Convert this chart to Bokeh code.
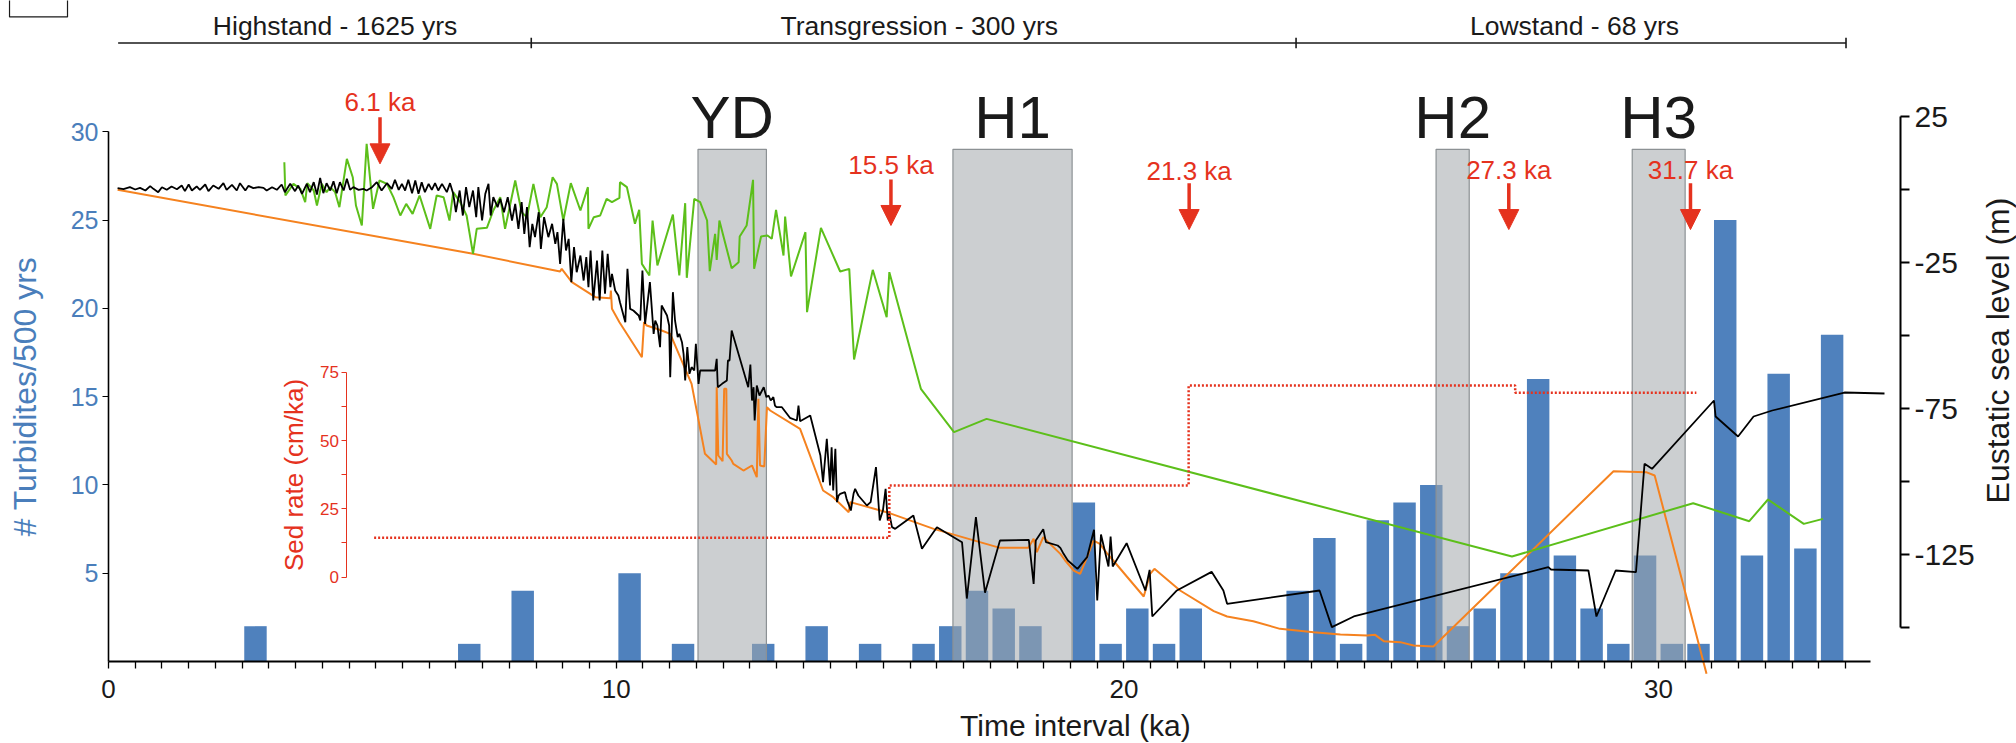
import math
from bokeh.plotting import figure
from bokeh.models import (Range1d, LinearAxis, FixedTicker, ColumnDataSource,
                          Arrow, NormalHead)
from bokeh.core.properties import value
from bokeh.embed import file_html
from bokeh.resources import INLINE

# ---------------- data ----------------
# turbidite counts per 500-yr bin (bin start, ka)
bin_start_ka = [2.5, 6.5, 7.5, 9.5, 10.5, 12.0, 13.0, 14.0, 15.0, 15.5,
                16.0, 16.5, 17.0, 18.0, 18.5, 19.0, 19.5, 20.0, 22.0, 22.5,
                23.0, 23.5, 24.0, 24.5, 25.0, 25.5, 26.0, 26.5, 27.0, 27.5,
                28.0, 28.5, 29.0, 29.5, 30.0, 30.5, 31.0, 31.5, 32.0]
turbidites = [2, 1, 4, 5, 1, 1, 2, 1, 1, 2,
              4, 3, 2, 9, 1, 3, 1, 3, 4, 7,
              1, 8, 9, 10, 2, 3, 5, 16, 6, 3,
              1, 6, 1, 1, 25, 6, 16.3, 6.4, 18.5]

# sea-level curves (ka, m)
black_ka = [0.17, 0.28, 0.40, 0.50, 0.59, 0.69, 0.78, 0.84, 0.93, 1.00,
            1.09, 1.18, 1.28, 1.37, 1.43, 1.50, 1.56, 1.65, 1.71, 1.81,
            1.87, 1.96, 2.06, 2.15, 2.21, 2.31, 2.40, 2.46, 2.56, 2.62,
            2.71, 2.81, 2.90, 2.96, 3.06, 3.15, 3.24, 3.30, 3.40, 3.49,
            3.55, 3.62, 3.71, 3.77, 3.84, 3.90, 3.96, 4.02, 4.08, 4.15,
            4.21, 4.27, 4.33, 4.40, 4.46, 4.52, 4.58, 4.68, 4.77, 4.83,
            4.93, 5.02, 5.11, 5.21, 5.30, 5.36, 5.43, 5.49, 5.55, 5.61,
            5.68, 5.74, 5.80, 5.86, 5.92, 5.99, 6.05, 6.11, 6.17, 6.24,
            6.33, 6.39, 6.45, 6.50, 6.57, 6.63, 6.69, 6.75, 6.82, 6.88,
            6.92, 6.99, 7.05, 7.11, 7.15, 7.20, 7.28, 7.33, 7.40, 7.47,
            7.55, 7.61, 7.67, 7.73, 7.78, 7.83, 7.88, 7.93, 7.98, 8.05,
            8.09, 8.15, 8.23, 8.30, 8.36, 8.40, 8.45, 8.51, 8.56, 8.61,
            8.66, 8.71, 8.76, 8.83, 8.89, 8.94, 8.98, 9.02, 9.07, 9.14,
            9.19, 9.24, 9.29, 9.34, 9.39, 9.42, 9.48, 9.54,
            9.57, 9.67, 9.71, 9.76, 9.82, 9.92, 9.95, 9.99, 10.04, 10.13,
            10.20, 10.23, 10.27, 10.32, 10.35, 10.45, 10.49, 10.51, 10.56, 10.60,
            10.65, 10.68, 10.73, 10.76, 10.79, 10.83, 10.87, 10.91, 10.96, 10.99,
            11.04, 11.07, 11.35, 11.38, 11.40, 11.48, 11.57, 11.59, 11.62, 11.66,
            11.97, 12.01, 12.04, 12.07, 12.09, 12.13, 12.18, 12.26, 12.31, 12.35,
            12.39, 12.44, 12.47, 12.50, 12.60, 12.75, 12.88, 12.91, 12.94, 13.13,
            13.32, 13.37, 13.44, 13.50, 13.53, 13.56, 13.60, 13.63, 13.66, 13.69,
            13.78, 13.81, 13.89, 13.94, 13.97, 14.03, 14.19, 14.26, 14.36, 14.43,
            14.49, 14.54, 14.58, 14.61, 14.66, 14.72, 15.06, 15.22, 15.50, 15.97,
            16.06, 16.23, 16.40, 16.68, 17.22, 17.31, 17.35, 17.49, 17.54, 17.76,
            17.81, 17.87, 17.95, 18.13, 18.31, 18.44, 18.50, 18.57, 18.71, 18.75,
            18.79, 19.05, 19.40, 19.48, 19.53, 19.99, 20.64, 20.86, 20.93, 22.66,
            22.89, 23.30, 26.94, 26.99, 27.69, 27.84, 28.20, 28.58, 28.74, 28.88,
            30.04, 30.07, 30.49, 30.78, 31.13, 32.48, 33.23]
black_m = [0.59, 0.24, 0.93, 0.13, 0.70, -0.21, 1.27, 0.36, -0.78, 0.93,
           0.02, 1.16, 0.24, 1.50, -0.44, 1.84, -0.21, 1.16, 0.02, 1.84,
           -0.44, 1.50, 0.36, 2.30, 0.02, 1.73, -0.21, 2.30, -0.21, 1.38,
           0.59, 0.93, 0.70, -0.21, 0.93, 0.02, 1.84, -0.78, 2.07, -0.44,
           1.50, -1.36, 2.07, -0.78, 2.64, -1.58, 4.13, -1.13, 2.30, -0.21,
           2.98, -1.13, 2.64, -0.21, 3.78, 0.02, 0.93, 0.02, 0.36, -0.21,
           0.93, 2.64, -0.21, 2.30, 0.36, 3.44, 0.02, 2.07, -0.21, 3.44,
           -1.13, 3.21, -1.36, 2.64, -0.78, 2.07, 0.02, 2.30, -0.21, 2.07,
           -0.78, 2.30, -1.36, -7.64, -0.21, -8.78, 0.93, -5.92, -0.21, -9.35,
           0.93, -10.49, -1.36, 2.07, -8.78, -2.50, -5.92, -3.07, -7.64, -2.50,
           -10.49, -4.78, -13.35, -4.21, -15.06, -5.92, -19.63, -11.63, -16.20, -7.64,
           -20.20, -9.35, -16.20, -11.63, -18.48, -14.49, -25.34, -9.92, -20.77, -16.77,
           -31.62, -19.63, -28.20, -22.48, -31.05, -23.05, -33.33, -20.77, -37.90, -24.20,
           -37.90, -20.77, -35.60, -21.91, -33.33, -28.76, -34.47, -36.19,
           -38.47, -45.32, -27.05, -40.75, -41.32, -43.04, -44.75, -27.62, -45.89, -31.62,
           -49.32, -44.75, -46.46, -53.88, -39.61, -43.04, -46.46, -64.16, -35.04, -44.75,
           -50.46, -49.32, -52.17, -56.17, -65.30, -53.88, -63.02, -60.74, -61.88, -52.74,
           -66.45, -61.88, -61.88, -57.88, -67.59, -66.45, -65.30, -58.45, -58.45, -48.18,
           -67.59, -59.82, -72.16, -67.59, -79.01, -67.02, -70.44, -67.59, -71.01, -70.44,
           -72.16, -71.01, -73.87, -74.44, -74.44, -78.09, -79.01, -73.87, -79.24, -77.29,
           -91.00, -100.13, -85.29, -101.27, -88.14, -102.99, -88.71, -106.98, -104.70, -104.13,
           -103.56, -105.84, -109.84, -104.13, -102.42, -104.70, -108.13, -106.98, -94.99, -113.27,
           -109.84, -102.42, -113.27, -110.98, -115.55, -116.12, -111.55, -122.97, -115.55, -120.69,
           -140.0, -112.1, -138.0, -120.12, -119.89, -134.96, -120.12, -116.24, -120.69, -121.83,
           -122.63, -124.69, -126.97, -129.83, -125.83, -116.46, -140.67, -118.06, -129.02, -118.74,
           -129.02, -121.03, -137.24, -130.16, -146.15, -137.24, -130.85, -137.24, -141.81, -137.24,
           -149.80, -146.15, -129.25, -130.05, -130.39, -146.15, -130.40, -130.97, -93.86, -95.57,
           -72.16, -77.64, -84.49, -77.64, -75.58, -69.42, -69.76]

orange_ka = [0.17, 6.82, 8.45, 8.48, 8.67, 9.11, 9.39, 9.40, 9.42, 9.56,
             9.98, 10.02, 10.07, 10.35, 10.51, 10.91, 11.16, 11.37, 11.38, 11.41,
             11.49, 11.52, 11.56, 11.57, 11.66, 11.69, 11.88, 12.04, 12.13, 12.16,
             12.19, 12.27, 12.32, 12.38, 12.94, 13.37, 13.56, 13.85, 13.88, 14.56,
             15.44, 16.68, 17.21, 17.31, 17.37, 17.49, 17.81, 17.90, 18.06, 18.18,
             18.31, 18.43, 18.55, 18.68, 18.80, 19.37, 19.49, 19.57, 19.68, 20.05,
             20.68, 20.93, 21.42, 21.92, 22.55, 23.05, 23.55, 23.70, 23.86, 24.17,
             24.42, 24.79, 28.16, 28.77, 28.93, 29.90]
orange_m = [0.02, -21.91, -27.96, -27.05, -31.62, -36.76, -37.10, -34.47, -40.75, -45.32,
            -57.31, -45.32, -46.46, -48.18, -49.32, -66.45, -90.43, -94.08, -67.59, -91.00,
            -92.94, -68.16, -68.16, -90.43, -92.71, -93.85, -96.14, -94.42, -98.42, -71.58,
            -94.42, -94.77, -74.44, -75.58, -81.86, -102.99, -105.27, -110.41, -106.98, -110.41,
            -116.12, -122.63, -122.63, -119.55, -124.11, -118.98, -124.69, -126.97, -130.40, -131.53,
            -125.83, -120.12, -121.26, -124.45, -126.97, -139.30, -131.53, -129.82, -131.53, -137.24,
            -144.32, -146.15, -147.75, -150.38, -151.52, -152.32, -152.66, -152.43, -154.60, -154.94,
            -156.09, -156.43, -96.37, -96.71, -97.85, -165.80]

green_ka = [3.29, 3.31, 3.46, 3.59, 3.68, 3.72, 3.84, 3.90, 3.99, 4.08,
            4.15, 4.24, 4.32, 4.46, 4.57, 4.63, 4.74, 4.83, 4.95, 5.07,
            5.21, 5.33, 5.46, 5.57, 5.69, 5.82, 6.02, 6.14, 6.27, 6.38,
            6.45, 6.58, 6.70, 6.82, 6.89, 7.08, 7.20, 7.33, 7.42, 7.61,
            7.73, 7.83, 7.95, 8.08, 8.20, 8.31, 8.39, 8.51, 8.65, 8.83,
            8.97, 8.98, 9.08, 9.20, 9.32, 9.42, 9.56, 9.57, 9.70, 9.85,
            9.93, 9.98, 10.12, 10.18, 10.27, 10.56, 10.68, 10.79, 10.82, 10.96,
            11.07, 11.20, 11.25, 11.35, 11.38, 11.43, 11.66, 11.79, 11.81, 11.94,
            12.06, 12.08, 12.21, 12.33, 12.41, 12.49, 12.63, 12.66, 12.77, 13.04,
            13.07, 13.33, 13.69, 13.86, 13.95, 14.30, 14.56, 14.61, 15.20, 15.82,
            16.43, 26.26, 29.65, 30.70, 31.05, 31.72, 32.08]
green_m = [9.49, -1.93, 2.07, 0.36, -4.21, 2.30, -0.21, -5.35, 2.07, -0.78,
           0.93, -0.78, -5.92, 10.63, 4.35, -5.35, -12.21, 15.77, -6.49, 3.21,
           2.07, -2.50, -8.78, -4.78, -8.21, -1.93, -13.35, -1.93, -2.50, -10.49,
           -0.78, -4.21, -8.78, -21.91, -13.35, -13.00, -7.07, -2.50, -13.35, 3.21,
           -7.64, -9.35, 2.07, -9.35, -5.92, 4.35, 2.07, -10.49, 2.30, -7.07,
           0.93, -13.35, -9.35, -8.78, -3.07, -4.21, -2.73, 2.64, 0.93, -11.63,
           -6.84, -25.34, -29.33, -10.49, -25.91, -8.44, -29.33, -4.55, -30.13, -3.07,
           -4.21, -10.49, -27.85, -15.06, -23.97, -10.49, -26.82, -24.77, -15.97, -12.20,
           3.44, -27.05, -15.97, -15.63, -16.77, -6.84, -22.48, -9.12, -29.68, -14.49,
           -41.89, -13.00, -27.96, -27.05, -58.11, -27.39, -43.61, -28.19, -68.16, -83.00,
           -78.44, -125.60, -107.33, -113.50, -106.07, -114.41, -112.70]

# sedimentation rate (ka, cm/ka), stepped
sed_ka = [4.97, 14.61, 14.61, 20.21, 20.21, 26.32, 26.32, 29.71]
sed_rate = [14.4, 14.4, 33.6, 33.6, 70.2, 70.2, 67.6, 67.6]

# climate events (shaded)
event_names = ["YD", "H1", "H2", "H3"]
event_start = [11.03, 15.80, 24.84, 28.51]
event_end = [12.31, 18.03, 25.46, 29.50]

# dated horizons
age_labels = ["6.1 ka", "15.5 ka", "21.3 ka", "27.3 ka", "31.7 ka"]
age_x = [5.08, 14.64, 20.22, 26.20, 29.60]

# sea-level phases
phase_names = ["Highstand - 1625 yrs", "Transgression - 300 yrs", "Lowstand - 68 yrs"]
phase_start = [0.18, 7.91, 22.22]
phase_end = [7.91, 22.22, 32.51]
phase_label_x = [4.24, 15.17, 27.43]

x_tick_pos = [0, 9.5, 19, 29]
x_tick_text = ["0", "10", "20", "30"]
sea_tick_pos = [-125, -75, -25, 25]
sea_tick_text = ["-125", "-75", "-25", "25"]

# ---------------- layout / style ----------------
FONT = "Liberation Sans"
RED = "#e5321e"
BLUE = "#4f81bd"
BLUE_TXT = "#4a7ebb"
GREEN = "#5cbf1a"
ORANGE = "#f5821f"
DARK = "#1a1a1a"
BIN = 0.5
EVENT_TOP = 29
EVENT_LABEL_Y = 30.78
HEADER_Y = 35.02
HEADER_TEXT_Y = 35.96
age_label_y = [31.67, 28.13, 27.80, 27.86, 27.86]
arrow_y0 = [30.82, 27.29, 27.08, 27.08, 27.08]
arrow_y1 = [28.18, 24.69, 24.46, 24.46, 24.46]
X_AXIS_END = 32.97
RIGHT_AXIS_X = 33.53
INSET_AXIS_X = 4.46

p = figure(width=2016, height=743, output_backend="svg", toolbar_location=None,
           x_range=Range1d(-2.0208, 35.700), y_range=Range1d(-4.6434, 37.43),
           min_border=0, x_axis_location=None, y_axis_location=None)
p.extra_y_ranges = {"sea": Range1d(-189.66, 64.88), "sed": Range1d(-61.00, 211.36)}
p.outline_line_color = None
p.grid.visible = False

# panel-letter frame (top-left corner)
p.quad(left=[-1.852], right=[-0.767], bottom=[36.50], top=[37.6],
       fill_color=None, line_color=DARK, line_width=1.2)

# bars
bars = ColumnDataSource(dict(x=[s + BIN / 2 for s in bin_start_ka], top=turbidites))
p.vbar(x="x", top="top", bottom=0, width=0.42, source=bars,
       fill_color=BLUE, line_color=None)

# shaded events
p.quad(left=event_start, right=event_end, bottom=0, top=EVENT_TOP,
       fill_color="#a3a8ab", fill_alpha=0.55, line_color="#8c9194", line_width=1.2)

# curves
p.line(orange_ka, orange_m, y_range_name="sea", line_color=ORANGE, line_width=2)
p.line(green_ka, green_m, y_range_name="sea", line_color=GREEN, line_width=2)
p.line(black_ka, black_m, y_range_name="sea", line_color="black", line_width=1.8)
p.line(sed_ka, sed_rate, y_range_name="sed", line_color=RED, line_width=2.5,
       line_dash="2 2")

# header
p.segment(x0=[phase_start[0]], x1=[phase_end[-1]], y0=[HEADER_Y], y1=[HEADER_Y],
          line_color=DARK, line_width=1.6)
p.segment(x0=phase_end, x1=phase_end, y0=[HEADER_Y - 0.3] * 3, y1=[HEADER_Y + 0.3] * 3,
          line_color=DARK, line_width=1.6)
p.text(x=phase_label_x, y=[HEADER_TEXT_Y] * 3,
       text=phase_names, text_font=value(FONT), text_font_size=value("26.5px"),
       text_align="center", text_baseline="middle", text_color=DARK)

# event labels
p.text(x=[(s + e) / 2 for s, e in zip(event_start, event_end)], y=[EVENT_LABEL_Y] * 4,
       text=event_names, text_font=value(FONT), text_font_size=value("60px"),
       text_align="center", text_baseline="middle", text_color=DARK)

# age arrows
p.text(x=age_x, y=age_label_y, text=age_labels, text_font=value(FONT),
       text_font_size=value("26px"), text_align="center", text_baseline="middle",
       text_color=RED)
arr = ColumnDataSource(dict(x=age_x, y0=arrow_y0, y1=arrow_y1))
p.add_layout(Arrow(end=NormalHead(size=20, fill_color=RED, line_color=RED, line_width=1),
                   x_start="x", y_start="y0", x_end="x", y_end="y1", source=arr,
                   line_color=RED, line_width=3.5))

# ---- axes ----
xa = LinearAxis(fixed_location=0, bounds=(0, X_AXIS_END),
                ticker=FixedTicker(ticks=x_tick_pos, minor_ticks=[i * BIN for i in range(66)]),
                major_label_overrides={float(t): s for t, s in zip(x_tick_pos, x_tick_text)},
                major_tick_line_color=None, major_tick_in=0, major_tick_out=7,
                minor_tick_in=0, minor_tick_out=7, minor_tick_line_color="black",
                minor_tick_line_width=1.3, axis_line_width=1.8,
                major_label_standoff=12, major_label_text_font=FONT,
                major_label_text_font_size="26px", major_label_text_color=DARK)
p.add_layout(xa, "below")
p.text(x=[18.09], y=[-3.62], text=["Time interval (ka)"], text_font=value(FONT),
       text_font_size=value("30px"), text_align="center", text_baseline="middle",
       text_color=DARK)

ya = LinearAxis(fixed_location=0, bounds=(0, 30),
                ticker=FixedTicker(ticks=[5, 10, 15, 20, 25, 30]),
                minor_tick_line_color=None, major_tick_in=0, major_tick_out=6,
                axis_line_width=1.6, major_label_standoff=4, major_label_text_font=FONT,
                major_label_text_font_size="25px", major_label_text_color=BLUE_TXT,
                axis_label="# Turbidites/500 yrs", axis_label_text_font=FONT,
                axis_label_text_font_size="32px", axis_label_text_font_style="normal",
                axis_label_text_color=BLUE_TXT, axis_label_standoff=25)
p.add_layout(ya, "left")

ra = LinearAxis(y_range_name="sea", fixed_location=RIGHT_AXIS_X, bounds=(-150, 25),
                ticker=FixedTicker(ticks=sea_tick_pos, minor_ticks=[-150, -100, -50, 0]),
                major_label_overrides={float(t): s for t, s in zip(sea_tick_pos, sea_tick_text)},
                major_tick_in=0, major_tick_out=9, minor_tick_in=0, minor_tick_out=9,
                major_tick_line_width=2, minor_tick_line_width=2, axis_line_width=2,
                major_label_standoff=5, major_label_text_font=FONT,
                major_label_text_font_size="30px", major_label_text_color=DARK)
p.add_layout(ra, "right")
p.text(x=[35.345], y=[17.61], text=["Eustatic sea level (m)"], angle=math.pi / 2,
       text_font=value(FONT), text_font_size=value("32px"), text_align="center",
       text_baseline="middle", text_color=DARK)

sa = LinearAxis(y_range_name="sed", fixed_location=INSET_AXIS_X, bounds=(0, 75),
                ticker=FixedTicker(ticks=[0, 25, 50, 75], minor_ticks=[12.5, 37.5, 62.5]),
                axis_line_color=RED, major_tick_line_color=RED, minor_tick_line_color=RED,
                major_tick_in=0, major_tick_out=5, minor_tick_in=0, minor_tick_out=5,
                major_label_standoff=3, major_label_text_font=FONT,
                major_label_text_font_size="17px", major_label_text_color=RED,
                axis_label="Sed rate (cm/ka)", axis_label_text_font=FONT,
                axis_label_text_font_size="26px", axis_label_text_font_style="normal",
                axis_label_text_color=RED, axis_label_standoff=8)
p.add_layout(sa, "left")

open("out.html", "w").write(file_html(p, INLINE))
